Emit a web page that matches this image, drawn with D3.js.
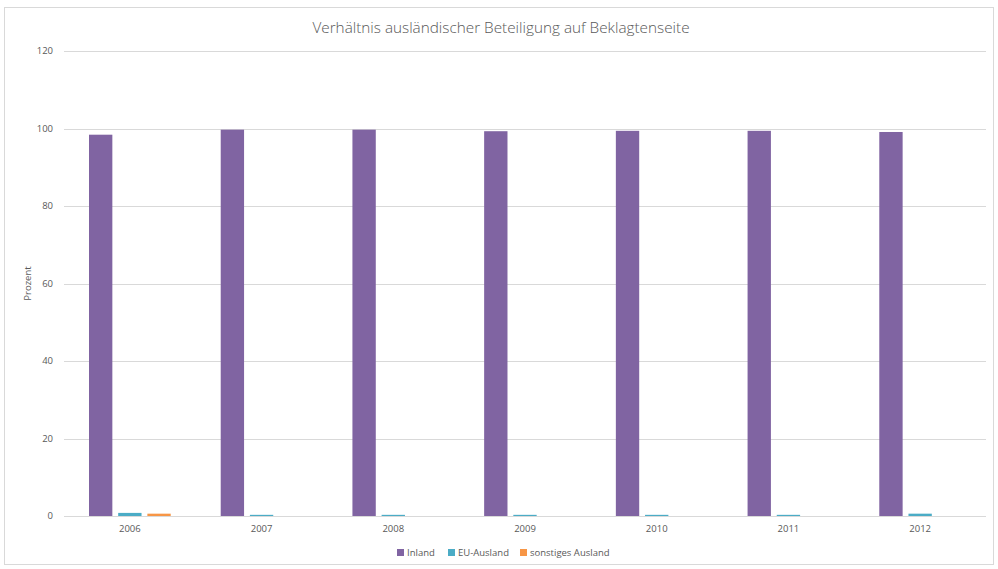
<!DOCTYPE html>
<html><head><meta charset="utf-8">
<script src="https://cdn.jsdelivr.net/npm/d3@7"></script>
<style>body{margin:0;background:#fff;} svg{display:block;}</style>
</head><body>
<svg id="chart" width="998" height="569"></svg>
<script>
const years = ["2006","2007","2008","2009","2010","2011","2012"];
const seriesNames = ["Inland","EU-Ausland","sonstiges Ausland"];
const inland = [98.4, 99.7, 99.7, 99.3, 99.4, 99.4, 99.1];
const euAusland = [0.8, 0.3, 0.3, 0.3, 0.3, 0.3, 0.6];
const sonstigesAusland = [0.6, 0, 0, 0, 0, 0, 0];
const yTicks = [0, 20, 40, 60, 80, 100, 120];
const colors = ["#8064A2", "#4BACC6", "#F79646"];
const titleText = "Verhältnis ausländischer Beteiligung auf Beklagtenseite";
const yTitle = "Prozent";

const seriesValues = [inland, euAusland, sonstigesAusland];
const data = years.map((y, i) => ({year: y, values: seriesValues.map(s => s[i])}));

const svg = d3.select("#chart");
const font = "'Open Sans', sans-serif";
const mLeft = 64, mRight = 986, mTop = 51, mBottom = 516;

svg.append("rect").attr("x", 4.5).attr("y", 7.5).attr("width", 989).attr("height", 557)
  .attr("fill", "#fff").attr("stroke", "#d9d9d9").attr("stroke-width", 1);

const x0 = d3.scaleBand().domain(years).range([mLeft, mRight]).padding(0);
const x1 = d3.scaleBand().domain(seriesNames).range([25, x0.bandwidth() - 25]).paddingInner(0.2).paddingOuter(0);
const y = d3.scaleLinear().domain([0, 120]).range([mBottom, mTop]);

// gridlines
svg.append("g").selectAll("line").data(yTicks.filter(t => t !== 0)).join("line")
  .attr("x1", mLeft).attr("x2", mRight)
  .attr("y1", d => Math.round(y(d)) + 0.5).attr("y2", d => Math.round(y(d)) + 0.5)
  .attr("stroke", "#d9d9d9").attr("stroke-width", 1);

// y tick labels
svg.append("g").selectAll("text").data(yTicks).join("text")
  .attr("x", 53).attr("y", d => y(d)).attr("dy", "0.35em")
  .attr("text-anchor", "end").attr("font-family", font).attr("font-size", 9.5)
  .attr("fill", "#595959").text(d => d);

// bars
const groups = svg.append("g").selectAll("g").data(data).join("g")
  .attr("transform", d => `translate(${x0(d.year)},0)`);
groups.selectAll("rect").data(d => d.values.map((v, i) => ({name: seriesNames[i], v, i})))
  .join("rect")
  .attr("x", d => x1(d.name)).attr("width", x1.bandwidth())
  .attr("y", d => y(d.v)).attr("height", d => y(0) - y(d.v))
  .attr("fill", d => colors[d.i]);

// x axis line
svg.append("line").attr("x1", mLeft).attr("x2", mRight)
  .attr("y1", Math.round(y(0)) + 0.5).attr("y2", Math.round(y(0)) + 0.5)
  .attr("stroke", "#d9d9d9").attr("stroke-width", 1);

// x labels
svg.append("g").selectAll("text").data(years).join("text")
  .attr("x", d => x0(d) + x0.bandwidth() / 2).attr("y", 532)
  .attr("text-anchor", "middle").attr("font-family", font).attr("font-size", 9.5)
  .attr("fill", "#595959").text(d => d);

// title
svg.append("text").attr("x", 501).attr("y", 33).attr("text-anchor", "middle")
  .attr("font-family", font).attr("font-weight", 300).attr("font-size", 15.3)
  .attr("fill", "#595959").text(titleText);

// y title
svg.append("text").attr("transform", `translate(31,${(mTop + mBottom) / 2}) rotate(-90)`)
  .attr("text-anchor", "middle").attr("font-family", font).attr("font-size", 9.5)
  .attr("fill", "#595959").text(yTitle);

// legend
const legendX = [397, 448, 520];
const lg = svg.append("g").selectAll("g").data(seriesNames).join("g")
  .attr("transform", (d, i) => `translate(${legendX[i]},553)`);
lg.append("rect").attr("x", 0).attr("y", -4).attr("width", 7).attr("height", 7)
  .attr("fill", (d, i) => colors[i]);
lg.append("text").attr("x", 10).attr("y", 0).attr("dy", "0.33em")
  .attr("font-family", font).attr("font-size", 9.5).attr("fill", "#595959").text(d => d);
</script>
</body></html>
